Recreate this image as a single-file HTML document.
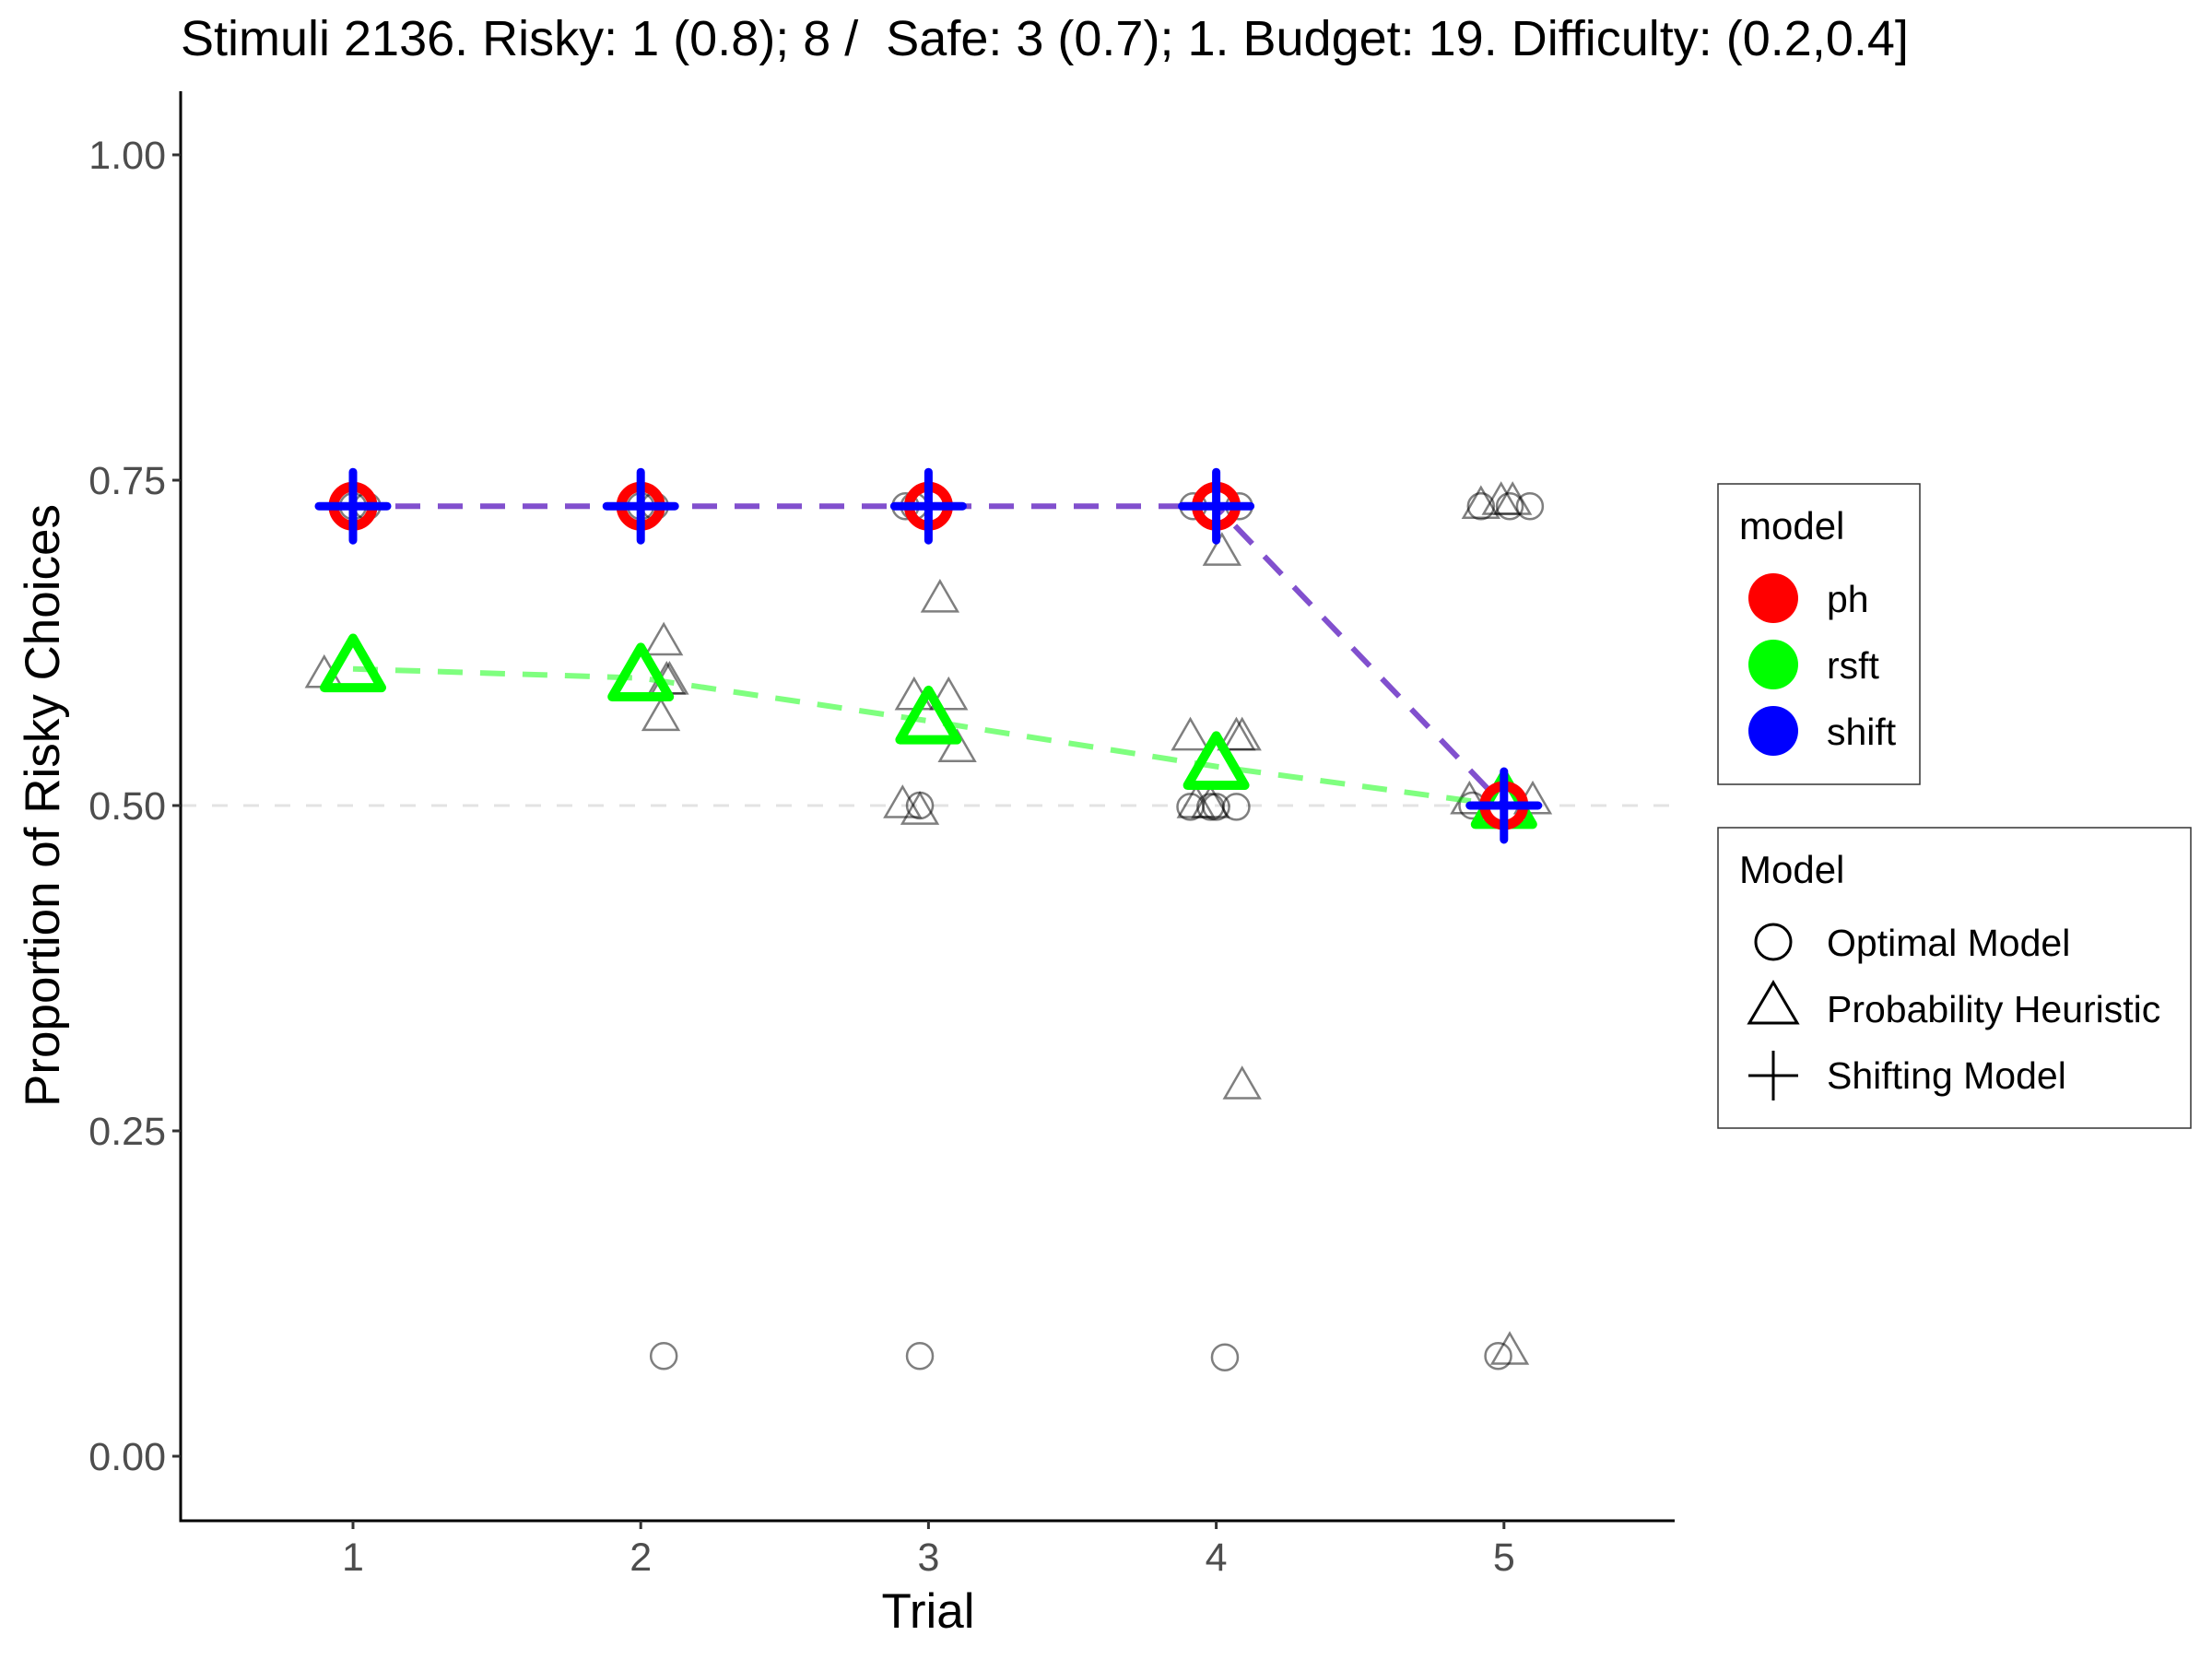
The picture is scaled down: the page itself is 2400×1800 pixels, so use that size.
<!DOCTYPE html>
<html><head><meta charset="utf-8"><style>
html,body{margin:0;padding:0;background:#fff}
svg{display:block;font-family:"Liberation Sans",sans-serif}
</style></head><body>
<svg id="chart" width="2400" height="1800" viewBox="0 0 2400 1800" xmlns="http://www.w3.org/2000/svg">
<text x="196" y="60" font-size="54" fill="#000" style="white-space:pre">Stimuli 2136. Risky: 1 (0.8); 8 /&#160; Safe: 3 (0.7); 1. Budget: 19. Difficulty: (0.2,0.4]</text>
<g id="grey"></g>
<g id="lines"></g>
<g id="marks"></g>
<g id="axes"></g>
<text transform="translate(64,874) rotate(-90)" text-anchor="middle" font-size="53" fill="#000">Proportion of Risky Choices</text>
<text x="1007" y="1766" text-anchor="middle" font-size="53" fill="#000">Trial</text>

<g>
<rect x="1864" y="525" width="219" height="326" fill="#fff" stroke="#333" stroke-width="1.5"/>
<text x="1887" y="585" font-size="42">model</text>
<circle cx="1924" cy="649" r="27" fill="#ff0000"/><text x="1982" y="664" font-size="41">ph</text>
<circle cx="1924" cy="721" r="27" fill="#00ff00"/><text x="1982" y="736" font-size="41">rsft</text>
<circle cx="1924" cy="793" r="27" fill="#0000ff"/><text x="1982" y="808" font-size="41">shift</text>
</g>
<g>
<rect x="1864" y="898" width="513" height="326" fill="#fff" stroke="#333" stroke-width="1.5"/>
<text x="1887" y="958" font-size="42">Model</text>
<circle cx="1924" cy="1022" r="19" fill="none" stroke="#000" stroke-width="3"/><text x="1982" y="1037" font-size="41">Optimal Model</text>
<polygon points="1924,1066 1950,1110 1898,1110" fill="none" stroke="#000" stroke-width="3"/><text x="1982" y="1109" font-size="41">Probability Heuristic</text>
<path d="M1924,1140 V1194 M1897,1167 H1951" stroke="#000" stroke-width="3"/><text x="1982" y="1181" font-size="41">Shifting Model</text>
</g>
</svg>
<script>
const trials=[1,2,3,4,5];
const phValues=[0.73,0.73,0.73,0.73,0.50];
const rsftValues=[0.605,0.598,0.565,0.530,0.500];
const shiftValues=[0.73,0.73,0.73,0.73,0.50];
const yTicks=[0,0.25,0.5,0.75,1.0];
const yTickLabels=["0.00","0.25","0.50","0.75","1.00"];
const greyTrial=[0.9,1.0,1.05,2.08,2.08,2.1,2.07,2.09,2.0,2.05,2.97,3.04,2.95,3.07,3.1,2.91,2.97,2.97,2.92,2.95,4.03,4.09,4.02,3.91,4.07,4.09,3.91,3.98,4.0,4.07,3.93,3.98,3.92,4.08,4.98,5.02,4.92,4.92,4.99,5.03,5.02,5.09,4.89,4.88,5.1];
const greyValue=[0.60,0.73,0.73,0.077,0.625,0.595,0.567,0.595,0.73,0.73,0.077,0.658,0.583,0.583,0.543,0.50,0.495,0.50,0.73,0.73,0.076,0.284,0.694,0.552,0.552,0.552,0.499,0.499,0.499,0.499,0.50,0.50,0.73,0.73,0.077,0.08,0.73,0.73,0.733,0.733,0.73,0.73,0.50,0.503,0.503];
const greyShape=["t","c","c","c","t","t","t","t","c","c","c","t","t","t","t","t","t","c","c","c","c","t","t","t","t","t","c","c","c","c","t","t","c","c","c","t","c","t","t","t","c","c","c","t","t"];

const X=t=>383+(t-1)*312.2;
const Y=v=>1580-v*1412;
const NS="http://www.w3.org/2000/svg";
function mk(tag,parent,attrs){const e=document.createElementNS(NS,tag);for(const k in attrs)e.setAttribute(k,attrs[k]);parent.appendChild(e);return e;}
const axes=document.getElementById('axes'),grey=document.getElementById('grey'),lines=document.getElementById('lines'),marks=document.getElementById('marks');

let ref=mk('line',grey,{x1:196,x2:1817,y1:Y(0.5),y2:Y(0.5),stroke:'#e3e3e3','stroke-width':3,'stroke-dasharray':'17 17'});



function tri(cx,cy,s){const h=s*0.866;return `${cx},${cy-h*0.62} ${cx+s/2},${cy+h*0.38} ${cx-s/2},${cy+h*0.38}`;}
greyTrial.forEach((t,i)=>{
  let e;
  if(greyShape[i]==='c') e=mk('circle',grey,{cx:X(t),cy:Y(greyValue[i]),r:14,fill:'none',stroke:'rgba(0,0,0,0.5)','stroke-width':2.5});
  else e=mk('polygon',grey,{points:tri(X(t),Y(greyValue[i]),38),fill:'none',stroke:'rgba(0,0,0,0.5)','stroke-width':2.5});
  
  
});

function pline(vals,color,name){
  const p=mk('polyline',lines,{points:trials.map((t,i)=>X(t)+','+Y(vals[i])).join(' '),fill:'none',stroke:color,'stroke-width':6,'stroke-dasharray':'27 19'});
  
  
}
pline(rsftValues,'rgba(0,255,0,0.5)','rsft-line');
pline(phValues,'rgba(128,0,128,0.55)','ph-line');
pline(shiftValues,'rgba(0,0,255,0.3)','shift-line');

trials.forEach((t,i)=>{
  const g=mk('polygon',marks,{points:tri(X(t),Y(rsftValues[i]),62),fill:'none',stroke:'#00ff00','stroke-width':10,'stroke-linejoin':'round'});
  
  
});
trials.forEach((t,i)=>{
  const c=mk('circle',marks,{cx:X(t),cy:Y(phValues[i]),r:21,fill:'none',stroke:'#ff0000','stroke-width':11});
  
  
});
trials.forEach((t,i)=>{
  const x=X(t),y=Y(shiftValues[i]);
  const p=mk('path',marks,{d:`M${x},${y-37} V${y+37} M${x-37},${y} H${x+37}`,stroke:'#0000ff','stroke-width':9,'stroke-linecap':'round'});
  
  
});

let ax=mk('path',axes,{d:'M196,99 V1650 H1817',fill:'none',stroke:'#000','stroke-width':3});


yTicks.forEach((v,i)=>{
  const tk=mk('line',axes,{x1:187,x2:196,y1:Y(v),y2:Y(v),stroke:'#333','stroke-width':3});
  
  
  const tx=mk('text',axes,{x:180,y:Y(v)+15,'text-anchor':'end','font-size':43,fill:'#4d4d4d'});
  tx.textContent=yTickLabels[i];
  
  
});
trials.forEach(t=>{
  const tk=mk('line',axes,{x1:X(t),x2:X(t),y1:1650,y2:1659,stroke:'#333','stroke-width':3});
  
  
  const tx=mk('text',axes,{x:X(t),y:1704,'text-anchor':'middle','font-size':43,fill:'#4d4d4d'});
  tx.textContent=String(t);
  
  
});
</script>
</body></html>
